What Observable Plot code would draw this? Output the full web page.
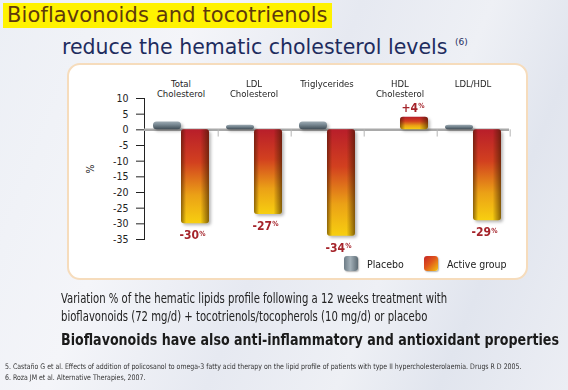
<!DOCTYPE html>
<html>
<head>
<meta charset="utf-8">
<script src="https://cdn.jsdelivr.net/npm/d3@7"></script>
<script src="https://cdn.jsdelivr.net/npm/@observablehq/plot@0.6"></script>
<style>
  html, body { margin: 0; padding: 0; }
  body {
    width: 568px; height: 390px; overflow: hidden; position: relative;
    background: linear-gradient(112deg, #eceff5 0%, #f4f5f9 28%, #e6e9f1 50%, #eef0f5 68%, #e1e5ee 82%, #eceef4 100%);
    font-family: "Liberation Sans Narrow", "DejaVu Sans Condensed", sans-serif;
    font-stretch: condensed;
  }
  #t1 {
    position: absolute; left: 3px; top: 3px; width: 329px; height: 25px;
    background: #fff200; color: #5e3a0c;
    font-family: "DejaVu Sans", sans-serif; font-stretch: normal; font-size: 21px; line-height: 25px;
    white-space: nowrap; text-indent: 4px; letter-spacing: 0.1px;
  }
  #t2 {
    position: absolute; left: 62px; top: 30px; color: #1e2c5e;
    font-family: "DejaVu Sans", sans-serif; font-stretch: normal; font-size: 20.5px; line-height: 24px;
    white-space: nowrap; letter-spacing: 0px;
  }
  #t2 sup { font-size: 9px; vertical-align: 9px; margin-left: 1px; }
  #panel {
    position: absolute; left: 67px; top: 63px; width: 457px; height: 213px;
    background: #fff; border: 2px solid #f6dcbc; border-radius: 13px;
  }
  #chart { position: absolute; left: 68px; top: 63px; }
  #legend { position: absolute; top: 256px; left: 0; font-size: 10.5px; color: #222; }
  .sw { position: absolute; width: 14px; height: 15px; border-radius: 3px; top: 0; }
  .lt { position: absolute; top: 1px; white-space: nowrap; line-height: 14px; }
  #note {
    position: absolute; left: 61px; top: 289px; color: #222;
    font-size: 13.5px; line-height: 18px; white-space: nowrap;
    transform: scaleX(0.83); transform-origin: 0 0;
  }
  #bold {
    position: absolute; left: 61px; top: 330px; color: #1b1b1b;
    font-size: 16px; font-weight: bold; white-space: nowrap; line-height: 20px;
    transform: scaleX(0.88); transform-origin: 0 0;
  }
  #refs {
    position: absolute; left: 5px; top: 361px; color: #333;
    font-size: 7.6px; line-height: 11px; white-space: nowrap;
    transform: scaleX(0.912); transform-origin: 0 0;
  }
  g[aria-description="shadowed"] { filter: drop-shadow(2px 2px 1.5px rgba(0,0,0,0.28)); }
</style>
</head>
<body>
<div id="t1">Bioflavonoids and tocotrienols</div>
<div id="t2">reduce the hematic cholesterol levels <sup>(6)</sup></div>
<div id="panel"></div>
<div id="chart"></div>
<div id="legend"></div>
<div id="note"></div>
<div id="bold"></div>
<div id="refs"></div>
<script>
// ---- data ----
const categories = ["Total Cholesterol", "LDL Cholesterol", "Triglycerides", "HDL Cholesterol", "LDL/HDL"];
const categoryLabels = ["Total\nCholesterol", "LDL\nCholesterol", "Triglycerides", "HDL\nCholesterol", "LDL/HDL"];
const series = ["Placebo", "Active group"];
const placeboValues = [2.5, 1.5, 2.5, 0, 1.5];
const activeValues = [-30, -27, -34, 4, -29];
const activeLabels = ["-30", "-27", "-34", "+4", "-29"];
const yTicks = [10, 5, 0, -5, -10, -15, -20, -25, -30, -35];
const noteLines = [
  "Variation % of the hematic lipids profile following a 12 weeks treatment with",
  "bioflavonoids (72 mg/d) + tocotrienols/tocopherols (10 mg/d) or placebo"
];
const boldLine = "Bioflavonoids have also anti-inflammatory and antioxidant properties";
const references = [
  "5.  Castaño G et al. Effects of addition of policosanol to omega-3 fatty acid therapy on the lipid profile of patients with type II hypercholesterolaemia. Drugs R D 2005.",
  "6.  Roza JM et al. Alternative Therapies, 2007."
];

// ---- table ----
const rows = [];
categories.forEach((c, i) => {
  rows.push({category: c, series: series[0], value: placeboValues[i]});
  rows.push({category: c, series: series[1], value: activeValues[i], label: activeLabels[i]});
});
const placeboRows = rows.filter(d => d.series === series[0]);
const activeRows = rows.filter(d => d.series === series[1]);
const negRows = activeRows.filter(d => d.value < 0);
const posRows = activeRows.filter(d => d.value >= 0);

const NS = "http://www.w3.org/2000/svg";
function grad(id, stops, horizontal) {
  const g = document.createElementNS(NS, "linearGradient");
  g.setAttribute("id", id);
  g.setAttribute("x1", "0"); g.setAttribute("y1", "0");
  g.setAttribute("x2", horizontal ? "1" : "0"); g.setAttribute("y2", horizontal ? "0" : "1");
  for (const [o, c, op] of stops) {
    const s = document.createElementNS(NS, "stop");
    s.setAttribute("offset", o); s.setAttribute("stop-color", c);
    if (op != null) s.setAttribute("stop-opacity", op);
    g.appendChild(s);
  }
  return g;
}
function defsMark() {
  const defs = document.createElementNS(NS, "defs");
  defs.appendChild(grad("gActive", [["0", "#b81e2a"], ["0.35", "#d2401f"], ["0.7", "#eba116"], ["1", "#f7cf10"]], false));
  defs.appendChild(grad("gEdge", [["0", "#3a1a00", 0.55], ["0.18", "#3a1a00", 0.0], ["0.7", "#3a1a00", 0.0], ["1", "#3a1a00", 0.6]], true));
  defs.appendChild(grad("gPlacebo", [["0", "#9eabb3"], ["0.35", "#7d8d97"], ["1", "#3f4c55"]], false));
  return defs;
}

const font = `"Liberation Sans Narrow", "DejaVu Sans Condensed", sans-serif`;

const chart = Plot.plot({
  width: 460,
  height: 216,
  marginLeft: 74,
  marginRight: 17,
  marginTop: 35,
  marginBottom: 40,
  style: {background: "transparent", fontFamily: font, fontSize: "10.5px", color: "#222", overflow: "visible", fontStretch: "condensed"},
  fx: {domain: categories, padding: 0, axis: null},
  x: {domain: series, paddingInner: 0, paddingOuter: 0.3, axis: null},
  y: {
    domain: [-35, 10], ticks: yTicks, tickFormat: d => String(d),
    tickSize: 8, tickPadding: 8, line: true,
    label: "%", labelAnchor: "center", labelOffset: 58, labelArrow: "none"
  },
  marks: [
    defsMark,
    Plot.ruleY([0], {stroke: "#a9a9a9", strokeWidth: 2.5}),
    Plot.ruleX(activeRows, {fx: "category", x: "series", y1: 0, y2: -2.3, dx: 22.7, stroke: "#b5b5b5"}),
    Plot.barY(placeboRows, {fx: "category", x: "series", y: "value", fill: "url(#gPlacebo)", rx: 3.5, ariaDescription: "shadowed"}),
    Plot.barY(activeRows, {fx: "category", x: "series", y: "value", fill: "url(#gActive)", rx: 3, ariaDescription: "shadowed"}),
    Plot.barY(activeRows, {fx: "category", x: "series", y: "value", fill: "url(#gEdge)", rx: 3}),
    Plot.text(negRows, {fx: "category", x: "series", y: "value", text: "label", fill: "#a5242b", fontWeight: "bold", fontSize: 12, textAnchor: "end", dx: 3.5, lineAnchor: "top", dy: 7}),
    Plot.text(negRows, {fx: "category", x: "series", y: "value", text: () => "%", fill: "#a5242b", fontWeight: "bold", fontSize: 7, textAnchor: "start", dx: 3.8, lineAnchor: "top", dy: 7}),
    Plot.text(posRows, {fx: "category", x: "series", y: "value", text: "label", fill: "#a5242b", fontWeight: "bold", fontSize: 12, textAnchor: "end", dx: 3.5, lineAnchor: "bottom", dy: -5}),
    Plot.text(posRows, {fx: "category", x: "series", y: "value", text: () => "%", fill: "#a5242b", fontWeight: "bold", fontSize: 7, textAnchor: "start", dx: 3.8, lineAnchor: "bottom", dy: -9}),
    Plot.text(categories, {fx: d => d, text: (d, i) => categoryLabels[i], frameAnchor: "top", lineAnchor: "top", dy: -18, fontSize: 9.5, fill: "#1e1e1e"})
  ]
});
document.getElementById("chart").appendChild(chart);

// legend
const legend = document.getElementById("legend");
const legendItems = [
  {name: series[0], bg: "linear-gradient(90deg, #6d7c86 0%, #a3b0b8 45%, #5d6b74 100%)", sx: 344, tx: 367},
  {name: series[1], bg: "linear-gradient(135deg, #c42526 0%, #e0561c 45%, #f3c312 100%)", sx: 424, tx: 447}
];
for (const it of legendItems) {
  const s = document.createElement("div");
  s.className = "sw"; s.style.left = it.sx + "px"; s.style.background = it.bg;
  s.style.boxShadow = "1px 1px 1.5px rgba(0,0,0,0.3)";
  legend.appendChild(s);
  const t = document.createElement("div");
  t.className = "lt"; t.style.left = it.tx + "px"; t.textContent = it.name;
  legend.appendChild(t);
}

document.getElementById("note").innerHTML = noteLines.map(l => `<div>${l}</div>`).join("");
document.getElementById("bold").textContent = boldLine;
document.getElementById("refs").innerHTML = references.map(l => `<div>${l}</div>`).join("");
</script>
</body>
</html>
